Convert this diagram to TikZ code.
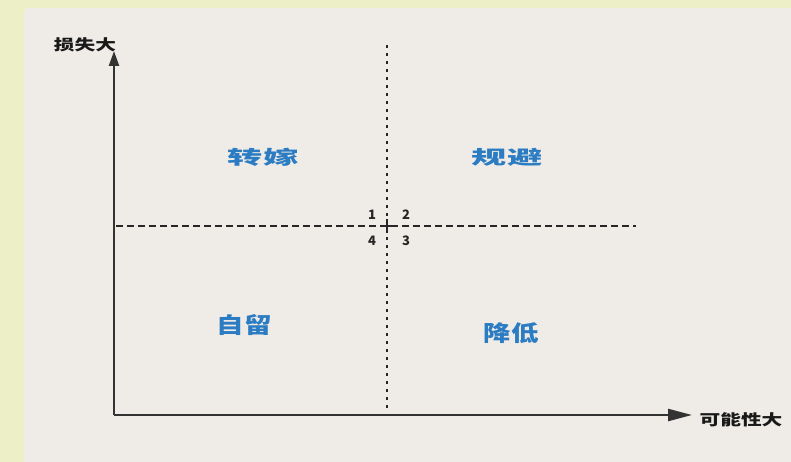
\documentclass[tikz,border=0pt]{standalone}
\usepackage{fontspec}
\newfontfamily\cjk{Noto Sans CJK SC}
\usetikzlibrary{arrows.meta}
\definecolor{outerbg}{HTML}{EDF0C6}
\definecolor{innerbg}{HTML}{EFECE8}
\definecolor{axisgray}{HTML}{333333}
\definecolor{quadblue}{HTML}{2B7CC2}
\tikzset{
  axisline/.style={draw=axisgray, line width=2.4pt},
  hdash/.style={draw=black!85, line width=1.6pt, dash pattern=on 7pt off 4pt},
  vdot/.style={draw=black!85, line width=1.8pt, dash pattern=on 3pt off 5pt},
  quadtop/.style={font=\cjk\fontsize{19}{19}\selectfont\bfseries, text=quadblue, inner sep=0pt, xscale=1.85},
  quadbot/.style={font=\cjk\fontsize{22}{22}\selectfont\bfseries, text=quadblue, inner sep=0pt, xscale=1.25},
  axlabel/.style={font=\cjk\fontsize{15}{15}\selectfont\bfseries, text=black!90, inner sep=0pt, xscale=1.38},
  num/.style={font=\cjk\fontsize{13}{13}\selectfont\bfseries, text=black!85, inner sep=0pt}
}
\begin{document}
\begin{tikzpicture}[x=1pt,y=-1pt]
\useasboundingbox (0,0) rectangle (791,462);
\fill[outerbg] (0,0) rectangle (791,462);
\fill[innerbg, rounded corners=4pt] (24,8) rectangle (800,470);
% axes
\coordinate (O) at (114,415);
\coordinate (ytip) at (114,51);
\coordinate (xtip) at (692,415);
\draw[axisline, -{Triangle[length=15pt,width=10pt]}] (O) -- (ytip);
\draw[axisline, -{Triangle[length=24pt,width=12pt]}] (O) -- (xtip);
\node[axlabel] (ylab) at (85,45) {损失大};
\node[axlabel] (xlab) at (741,420) {可能性大};
% quadrant divisions
\coordinate (hl) at (116,226);
\coordinate (hr) at (636,226);
\coordinate (vt) at (387,45);
\coordinate (vb) at (387,412);
\draw[hdash] (hl) -- (hr);
\draw[vdot] (vt) -- (vb);
\draw[black!85, line width=1.8pt] (380,226) -- (394,226) (387,219) -- (387,233);
% numbers
\node[num] (n1) at (372,215) {1};
\node[num] (n2) at (406,215) {2};
\node[num] (n4) at (372,241) {4};
\node[num] (n3) at (406,241) {3};
% quadrant labels
\node[quadtop] (zj) at (263,157) {转嫁};
\node[quadtop] (gb) at (507,157) {规避};
\node[quadbot] (zl) at (244,325) {自留};
\node[quadbot] (jd) at (511,333) {降低};
\end{tikzpicture}
\end{document}
